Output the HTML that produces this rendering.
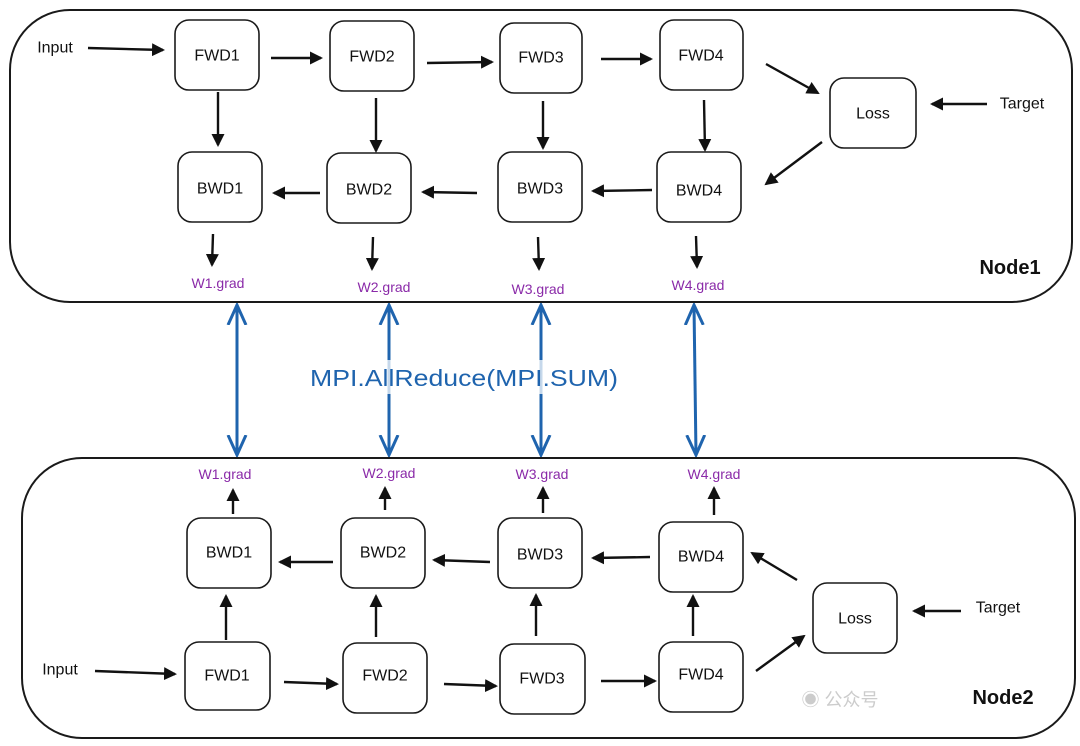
<!DOCTYPE html>
<html><head><meta charset="utf-8"><style>
html,body{margin:0;padding:0;background:#fff;}
svg{display:block;}
text{font-family:"Liberation Sans","Noto Sans CJK SC",sans-serif;}
.b{fill:#fff;stroke:#1a1a1a;stroke-width:1.6;}
.t{font-size:16px;fill:#111;text-anchor:middle;dominant-baseline:central;}
.g{font-size:14px;fill:#8a2aa8;text-anchor:middle;dominant-baseline:central;}
.l{stroke:#111;stroke-width:2.4;fill:none;}
.bl{stroke:#1f64ae;stroke-width:3;fill:none;}
</style></head><body>
<svg width="1080" height="746" viewBox="0 0 1080 746" xmlns="http://www.w3.org/2000/svg">
<defs>
<marker id="a" markerWidth="13" markerHeight="13" refX="11" refY="6.5" orient="auto" markerUnits="userSpaceOnUse" viewBox="0 0 13 13"><path d="M0,0 L13,6.5 L0,13 z" fill="#111"/></marker>
<marker id="ba" markerWidth="22" markerHeight="22" refX="20" refY="11" orient="auto-start-reverse" markerUnits="userSpaceOnUse" viewBox="0 0 22 22"><path d="M0,2 L20,11 L0,20" fill="none" stroke="#1f64ae" stroke-width="3"/></marker>
</defs>
<rect x="10" y="10" width="1062" height="292" rx="60" fill="none" stroke="#1a1a1a" stroke-width="2"/>
<rect x="22" y="458" width="1053" height="280" rx="60" fill="none" stroke="#1a1a1a" stroke-width="2"/>

<!-- Node1 -->
<text x="55" y="48" class="t">Input</text>
<line x1="88" y1="48" x2="163" y2="50" class="l" marker-end="url(#a)"/>
<rect x="175" y="20" width="84" height="70" rx="14" class="b"/><text x="217" y="56" class="t">FWD1</text>
<rect x="330" y="21" width="84" height="70" rx="14" class="b"/><text x="372" y="57" class="t">FWD2</text>
<rect x="500" y="23" width="82" height="70" rx="14" class="b"/><text x="541" y="58" class="t">FWD3</text>
<rect x="660" y="20" width="83" height="70" rx="14" class="b"/><text x="701" y="56" class="t">FWD4</text>
<rect x="830" y="78" width="86" height="70" rx="14" class="b"/><text x="873" y="114" class="t">Loss</text>
<text x="1022" y="104" class="t">Target</text>
<line x1="987" y1="104" x2="932" y2="104" class="l" marker-end="url(#a)"/>
<line x1="271" y1="58" x2="321" y2="58" class="l" marker-end="url(#a)"/>
<line x1="427" y1="63" x2="492" y2="62" class="l" marker-end="url(#a)"/>
<line x1="601" y1="59" x2="651" y2="59" class="l" marker-end="url(#a)"/>
<line x1="766" y1="64" x2="818" y2="93" class="l" marker-end="url(#a)"/>
<line x1="822" y1="142" x2="766" y2="184" class="l" marker-end="url(#a)"/>
<rect x="178" y="152" width="84" height="70" rx="14" class="b"/><text x="220" y="189" class="t">BWD1</text>
<rect x="327" y="153" width="84" height="70" rx="14" class="b"/><text x="369" y="190" class="t">BWD2</text>
<rect x="498" y="152" width="84" height="70" rx="14" class="b"/><text x="540" y="189" class="t">BWD3</text>
<rect x="657" y="152" width="84" height="70" rx="14" class="b"/><text x="699" y="191" class="t">BWD4</text>
<line x1="218" y1="92" x2="218" y2="145" class="l" marker-end="url(#a)"/>
<line x1="376" y1="98" x2="376" y2="151" class="l" marker-end="url(#a)"/>
<line x1="543" y1="101" x2="543" y2="148" class="l" marker-end="url(#a)"/>
<line x1="704" y1="100" x2="705" y2="150" class="l" marker-end="url(#a)"/>
<line x1="320" y1="193" x2="274" y2="193" class="l" marker-end="url(#a)"/>
<line x1="477" y1="193" x2="423" y2="192" class="l" marker-end="url(#a)"/>
<line x1="652" y1="190" x2="593" y2="191" class="l" marker-end="url(#a)"/>
<line x1="213" y1="234" x2="212" y2="265" class="l" marker-end="url(#a)"/>
<line x1="373" y1="237" x2="372" y2="269" class="l" marker-end="url(#a)"/>
<line x1="538" y1="237" x2="539" y2="269" class="l" marker-end="url(#a)"/>
<line x1="696" y1="236" x2="697" y2="267" class="l" marker-end="url(#a)"/>
<text x="218" y="283" class="g">W1.grad</text>
<text x="384" y="287" class="g">W2.grad</text>
<text x="538" y="289" class="g">W3.grad</text>
<text x="698" y="285" class="g">W4.grad</text>
<text x="1010" y="268" font-size="20" font-weight="bold" text-anchor="middle" dominant-baseline="central" fill="#111">Node1</text>

<!-- blue -->
<line x1="237" y1="305" x2="237" y2="455" class="bl" marker-start="url(#ba)" marker-end="url(#ba)"/>
<line x1="389" y1="305" x2="389" y2="455" class="bl" marker-start="url(#ba)" marker-end="url(#ba)"/>
<line x1="541" y1="305" x2="541" y2="455" class="bl" marker-start="url(#ba)" marker-end="url(#ba)"/>
<line x1="694" y1="305" x2="696" y2="455" class="bl" marker-start="url(#ba)" marker-end="url(#ba)"/>
<rect x="305" y="360" width="318" height="34" fill="#fff" opacity="0.75"/>
<text x="464" y="378" font-size="23" fill="#1f64ae" text-anchor="middle" dominant-baseline="central" textLength="308" lengthAdjust="spacingAndGlyphs">MPI.AllReduce(MPI.SUM)</text>

<!-- Node2 -->
<text x="225" y="474" class="g">W1.grad</text>
<text x="389" y="473" class="g">W2.grad</text>
<text x="542" y="474" class="g">W3.grad</text>
<text x="714" y="474" class="g">W4.grad</text>
<line x1="233" y1="514" x2="233" y2="490" class="l" marker-end="url(#a)"/>
<line x1="385" y1="510" x2="385" y2="488" class="l" marker-end="url(#a)"/>
<line x1="543" y1="513" x2="543" y2="488" class="l" marker-end="url(#a)"/>
<line x1="714" y1="515" x2="714" y2="488" class="l" marker-end="url(#a)"/>
<rect x="187" y="518" width="84" height="70" rx="14" class="b"/><text x="229" y="553" class="t">BWD1</text>
<rect x="341" y="518" width="84" height="70" rx="14" class="b"/><text x="383" y="553" class="t">BWD2</text>
<rect x="498" y="518" width="84" height="70" rx="14" class="b"/><text x="540" y="555" class="t">BWD3</text>
<rect x="659" y="522" width="84" height="70" rx="14" class="b"/><text x="701" y="557" class="t">BWD4</text>
<line x1="333" y1="562" x2="280" y2="562" class="l" marker-end="url(#a)"/>
<line x1="490" y1="562" x2="434" y2="560" class="l" marker-end="url(#a)"/>
<line x1="650" y1="557" x2="593" y2="558" class="l" marker-end="url(#a)"/>
<line x1="797" y1="580" x2="752" y2="553" class="l" marker-end="url(#a)"/>
<rect x="813" y="583" width="84" height="70" rx="14" class="b"/><text x="855" y="619" class="t">Loss</text>
<text x="998" y="608" class="t">Target</text>
<line x1="961" y1="611" x2="914" y2="611" class="l" marker-end="url(#a)"/>
<rect x="185" y="642" width="85" height="68" rx="14" class="b"/><text x="227" y="676" class="t">FWD1</text>
<rect x="343" y="643" width="84" height="70" rx="14" class="b"/><text x="385" y="676" class="t">FWD2</text>
<rect x="500" y="644" width="85" height="70" rx="14" class="b"/><text x="542" y="679" class="t">FWD3</text>
<rect x="659" y="642" width="84" height="70" rx="14" class="b"/><text x="701" y="675" class="t">FWD4</text>
<text x="60" y="670" class="t">Input</text>
<line x1="95" y1="671" x2="175" y2="674" class="l" marker-end="url(#a)"/>
<line x1="284" y1="682" x2="337" y2="684" class="l" marker-end="url(#a)"/>
<line x1="444" y1="684" x2="496" y2="686" class="l" marker-end="url(#a)"/>
<line x1="601" y1="681" x2="655" y2="681" class="l" marker-end="url(#a)"/>
<line x1="756" y1="671" x2="804" y2="636" class="l" marker-end="url(#a)"/>
<line x1="226" y1="640" x2="226" y2="596" class="l" marker-end="url(#a)"/>
<line x1="376" y1="637" x2="376" y2="596" class="l" marker-end="url(#a)"/>
<line x1="536" y1="636" x2="536" y2="595" class="l" marker-end="url(#a)"/>
<line x1="693" y1="636" x2="693" y2="596" class="l" marker-end="url(#a)"/>
<text x="840" y="700" font-size="18" fill="#ccc" text-anchor="middle" dominant-baseline="central">◉ 公众号</text>
<text x="1003" y="698" font-size="20" font-weight="bold" text-anchor="middle" dominant-baseline="central" fill="#111">Node2</text>
</svg>
</body></html>
